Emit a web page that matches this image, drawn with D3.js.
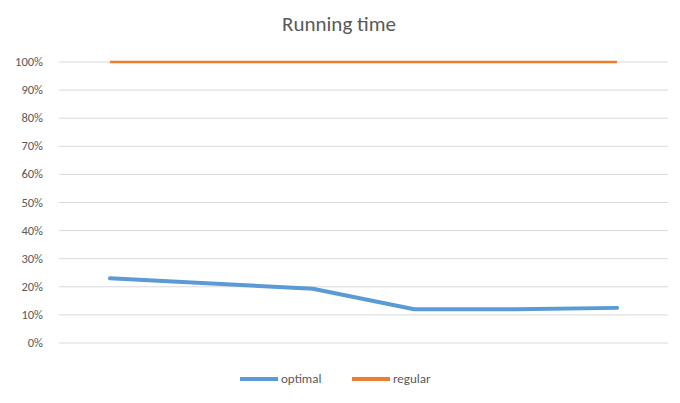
<!DOCTYPE html>
<html><head><meta charset="utf-8">
<script src="https://cdn.jsdelivr.net/npm/d3@7"></script>
<style>body{margin:0;background:#fff;font-family:Calibri,Carlito,"Open Sans","Liberation Sans",sans-serif;}</style>
</head><body>
<svg id="chart" width="680" height="403"></svg>
<script>
var categories = ['1', '2', '3', '4', '5', '6'];
var optimal = [0.23, 0.212, 0.193, 0.12, 0.12, 0.125];
var regular = [1, 1, 1, 1, 1, 1];
var yTicks = [0, 0.1, 0.2, 0.3, 0.4, 0.5, 0.6, 0.7, 0.8, 0.9, 1];

var svg = d3.select('#chart');
var margin = {top: 62, left: 59, right: 12, bottom: 60};
var width = 680, height = 403;

var x = d3.scalePoint().domain(categories).range([110, 617]);
var y = d3.scaleLinear().domain([0, 1]).range([343, 62]);

svg.append('g').selectAll('line').data(yTicks).enter().append('line')
   .attr('x1', margin.left).attr('x2', width - margin.right)
   .attr('y1', d => y(d)).attr('y2', d => y(d))
   .attr('stroke', '#d9d9d9').attr('stroke-width', 1);

svg.append('g').selectAll('text').data(yTicks).enter().append('text')
   .attr('x', 43).attr('y', d => y(d) + 4)
   .attr('text-anchor', 'end').attr('font-size', 12.5).attr('fill', '#595959')
   .text(d => d3.format('.0%')(d));

var line = d3.line().x((d, i) => x(categories[i])).y(d => y(d));

svg.append('path').datum(regular).attr('d', line)
   .attr('fill', 'none').attr('stroke', '#ed7d31').attr('stroke-width', 2.5);
svg.append('path').datum(optimal).attr('d', line)
   .attr('fill', 'none').attr('stroke', '#5b9bd5').attr('stroke-width', 4)
   .attr('stroke-linecap', 'round').attr('stroke-linejoin', 'round');

svg.append('text').attr('x', 339).attr('y', 31).attr('text-anchor', 'middle')
   .attr('font-size', 21).attr('fill', '#595959').text('Running time');

var legend = [{name: 'optimal', color: '#5b9bd5', x: 240}, {name: 'regular', color: '#ed7d31', x: 352}];
var lg = svg.append('g').selectAll('g').data(legend).enter().append('g');
lg.append('line').attr('x1', d => d.x).attr('x2', d => d.x + 38)
   .attr('y1', 379).attr('y2', 379).attr('stroke', d => d.color).attr('stroke-width', 4);
lg.append('text').attr('x', d => d.x + 41).attr('y', 383)
   .attr('font-size', 13).attr('fill', '#595959').text(d => d.name);
</script>
</body></html>
